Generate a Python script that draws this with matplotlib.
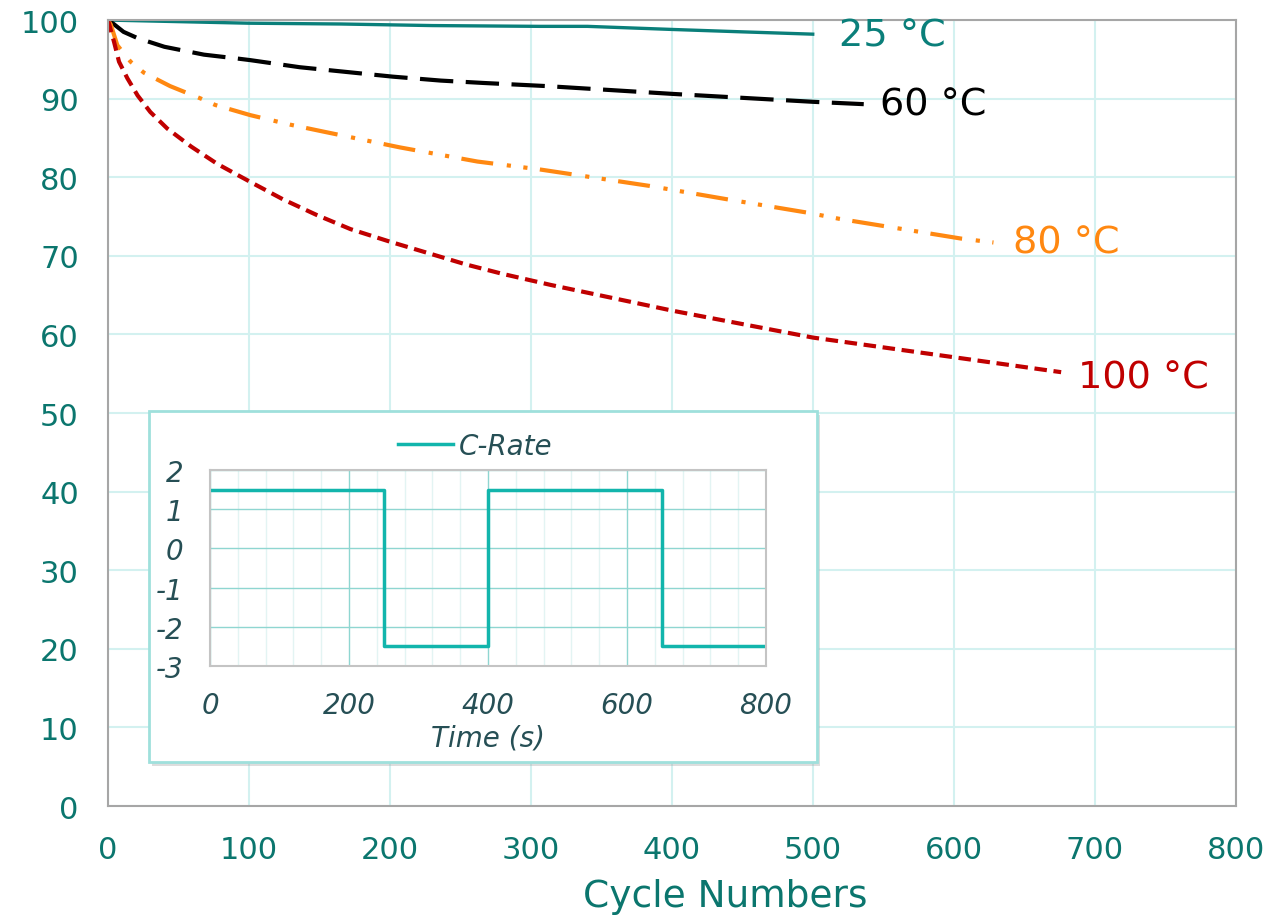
import matplotlib
matplotlib.use("Agg")
import matplotlib.pyplot as plt
from matplotlib.patches import Rectangle
from matplotlib.ticker import MultipleLocator

plt.rcParams['font.family'] = ['DejaVu Sans']
plt.rcParams['axes.unicode_minus'] = False

# capacity retention (%) vs cycle number
cyc_25 = [0, 50, 100, 165, 230, 306, 340, 401, 450, 501]
cap_25 = [100, 99.8, 99.6, 99.5, 99.3, 99.2, 99.2, 98.8, 98.5, 98.2]

cyc_60 = [0, 4, 11, 21, 40, 68, 92, 101, 136, 169, 202, 236, 266, 311, 401,
          500, 536]
cap_60 = [100, 99.5, 98.5, 97.7, 96.6, 95.6, 95.1, 94.9, 94.0, 93.4, 92.8,
          92.3, 92.0, 91.6, 90.6, 89.6, 89.3]

cyc_80 = [0, 2, 6.6, 16, 25.5, 44, 66, 76, 101, 129, 153, 207, 262, 306, 384,
          439, 496, 519, 605, 628]
cap_80 = [100, 99.4, 96.8, 94.7, 93.3, 91.6, 90.0, 89.2, 87.9, 86.7, 85.8,
          83.8, 82.0, 81.0, 78.9, 77.2, 75.5, 74.7, 72.2, 71.7]

cyc_100 = [0, 4.3, 7.8, 13.7, 21, 30, 42, 59, 77.5, 101, 124, 148, 172, 200,
           228, 254, 280, 314, 401, 500, 600, 676]
cap_100 = [100, 97.2, 94.7, 92.6, 90.4, 88.3, 86.2, 83.9, 81.7, 79.4, 77.2,
           75.2, 73.4, 71.8, 70.3, 68.9, 67.7, 66.3, 63.0, 59.6, 57.1, 55.2]

series_labels = ['25 °C', '60 °C', '80 °C', '100 °C']

# inset: C-rate profile
time_s = [0, 250, 400, 650, 800]
c_rate = [1.5, -2.5, 1.5, -2.5, -2.5]

tick_col = '#0b766e'
grid_col = '#d3f1f0'

fig = plt.figure(figsize=(12.86, 9.2), dpi=100)
ax = fig.add_axes([0.084, 0.1228, 0.8771, 0.8543])

ax.plot(cyc_25, cap_25, color='#0a7f7a', lw=2.4, solid_capstyle='butt')
ax.plot(cyc_60, cap_60, color='black', lw=3, linestyle=(0, (8, 3)))
ax.plot(cyc_80, cap_80, color='#ff8811', lw=3, linestyle=(0, (7.7, 3.3, 1, 3, 1, 3)))
ax.plot(cyc_100, cap_100, color='#c00000', lw=3, linestyle=(0, (3, 1.6)))

ends = [(cyc_25, cap_25, '#0a7f7a', (18, -1)),
        (cyc_60, cap_60, 'black', (12, 0)),
        (cyc_80, cap_80, '#ff8811', (14, 0)),
        (cyc_100, cap_100, '#c00000', (12, -4))]
for (xs, ys, c, off), lab in zip(ends, series_labels):
    ax.annotate(lab, (xs[-1], ys[-1]), xytext=off, textcoords='offset points',
                color=c, fontsize=27.5, va='center', ha='left')

ax.set_xlim(0, 800)
ax.set_ylim(0, 100)
ax.xaxis.set_major_locator(MultipleLocator(100))
ax.yaxis.set_major_locator(MultipleLocator(10))
ax.grid(True, color=grid_col, lw=1.5)
ax.set_axisbelow(True)
for s in ax.spines.values():
    s.set_color('#a6a6a6')
    s.set_linewidth(1.5)
ax.tick_params(length=0, labelsize=22, colors=tick_col)
ax.tick_params(axis='x', pad=21)
ax.tick_params(axis='y', pad=21)
ax.set_xlabel('Cycle Numbers', fontsize=27, color=tick_col, labelpad=10)
ax.xaxis.label.set_x(0.547)

# inset frame with shadow
shadow = Rectangle((0.1180, 0.1660), 0.5194, 0.3815, transform=fig.transFigure,
                   facecolor='#a0a0a0', alpha=0.35, edgecolor='none', zorder=3)
frame = Rectangle((0.1159, 0.1707), 0.5194, 0.3815, transform=fig.transFigure,
                  facecolor='white', edgecolor='#9fe0dc', lw=2, zorder=4)
fig.add_artist(shadow)
fig.add_artist(frame)

ins_col = '#264f55'
axi = fig.add_axes([0.1633, 0.275, 0.4323, 0.2130], zorder=5)
axi.step(time_s, c_rate, where='post', color='#12b5ac', lw=2.5, label='C-Rate')
axi.set_xlim(0, 800)
axi.set_ylim(-3, 2)
axi.xaxis.set_major_locator(MultipleLocator(200))
axi.xaxis.set_minor_locator(MultipleLocator(40))
axi.yaxis.set_major_locator(MultipleLocator(1))
axi.grid(True, which='major', color='#8fd6d1', lw=1)
axi.grid(True, which='minor', axis='x', color='#e3f4f3', lw=1)
axi.set_axisbelow(True)
for s in axi.spines.values():
    s.set_color('#c4c4c4')
    s.set_linewidth(1.5)
axi.tick_params(which='both', length=0, labelsize=20, colors=ins_col)
axi.tick_params(axis='x', pad=18)
axi.tick_params(axis='y', pad=19)
for t in axi.get_xticklabels() + axi.get_yticklabels():
    t.set_fontstyle('italic')
axi.set_xlabel('Time (s)', fontsize=20, color=ins_col, style='italic', labelpad=3)
leg = axi.legend(loc='lower center', bbox_to_anchor=(0.477, 0.98), frameon=False,
                 handlelength=2.0, handletextpad=0.2, borderaxespad=0.1,
                 prop={'size': 20, 'style': 'italic'})
for t in leg.get_texts():
    t.set_color(ins_col)

fig.savefig('out.png', dpi=100)
